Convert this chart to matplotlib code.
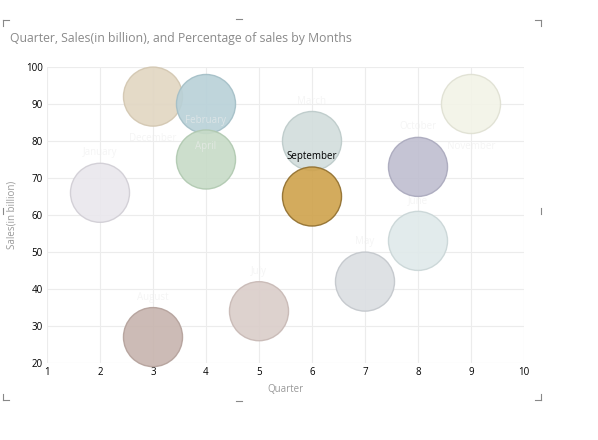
import matplotlib
matplotlib.use('Agg')
import matplotlib.pyplot as plt
from matplotlib.lines import Line2D

plt.rcParams['font.family'] = ['Open Sans', 'DejaVu Sans']

# Data
months = ['January', 'December', 'February', 'April', 'March', 'September',
          'October', 'November', 'June', 'May', 'July', 'August']
quarter = [2, 3, 4, 4, 6, 6, 8, 9, 8, 7, 5, 3]
sales = [66, 92, 90, 75, 80, 65, 73, 90, 53, 42, 34, 27]
pct_sales = [8, 8, 8, 8, 8, 8, 8, 8, 8, 8, 8, 8]

face_colors = ['#e9e7ed', '#e1d6c1', '#b8d1d8', '#c7dbc7', '#d2dddc', '#cfa24b',
               '#bfbed0', '#f2f3e7', '#dfe9ea', '#dbdee2', '#dacdc9', '#c7b4ae']
edge_colors = ['#d0cdd4', '#d2c6b0', '#a3bec6', '#afc8af', '#bccac9', '#8f6d2c',
               '#a9a8bc', '#dfe0d2', '#c9d5d6', '#c2c6cb', '#c7b8b4', '#b3a09a']

# where each month label sits relative to its bubble centre (pixels)
label_offsets = {'December': -42, 'February': -16, 'April': 13, 'November': -42}

fig = plt.figure(figsize=(5.98, 4.40), dpi=100)
ax = fig.add_axes([47 / 598, 1 - 363 / 440, 477 / 598, 296 / 440])

sizes = [p * 226 for p in pct_sales]
ax.scatter(quarter, sales, s=sizes, c=face_colors, edgecolors=edge_colors,
           linewidths=1.0, alpha=0.9, zorder=3, clip_on=False)

for m, xq, ys in zip(months, quarter, sales):
    dy = label_offsets.get(m, 40)
    if m == 'September':
        col, a = 'black', 1.0
    else:
        col, a = '#eeeeee', 0.6
    ax.annotate(m, (xq, ys), xytext=(0, dy), textcoords='offset pixels',
                ha='center', va='center', fontsize=7, color=col, alpha=a,
                zorder=4)

ax.set_xlim(1, 10)
ax.set_ylim(20, 100)
ax.set_xticks(range(1, 11))
ax.set_yticks(range(20, 101, 10))
ax.tick_params(length=0, labelsize=7, colors='black', pad=3)
ax.grid(True, color='#ececec', linewidth=0.8, zorder=0)
ax.set_axisbelow(True)
for s in ax.spines.values():
    s.set_visible(False)

ax.set_xlabel('Quarter', fontsize=7, color='#999999', labelpad=4)
ax.set_ylabel('Sales(in billion)', fontsize=7, color='#999999', labelpad=6)

fig.text(10 / 598, 1 - 38 / 440, 'Quarter, Sales(in billion), and Percentage of sales by Months',
         fontsize=8.8, color='#8a8a8a', va='center', ha='left')

# selection handles round the visual
def fx(px):
    return px / 598

def fy(py):
    return 1 - py / 440

handle_col = '#888888'
segs = [
    [(3.5, 20), (3.5, 26)], [(3.5, 20), (9, 20)],
    [(236, 19), (242, 19)],
    [(535, 20), (541, 20)], [(541, 20), (541, 26)],
    [(3.5, 208), (3.5, 214)], [(541, 208), (541, 214)],
    [(3.5, 394), (3.5, 400)], [(3.5, 400), (9, 400)],
    [(236, 401), (242, 401)],
    [(535, 400), (541, 400)], [(541, 394), (541, 400)],
]
for seg in segs:
    (x0, y0), (x1, y1) = seg
    fig.add_artist(Line2D([fx(x0), fx(x1)], [fy(y0), fy(y1)],
                          color=handle_col, linewidth=0.8))

fig.savefig('out.png', dpi=100)
